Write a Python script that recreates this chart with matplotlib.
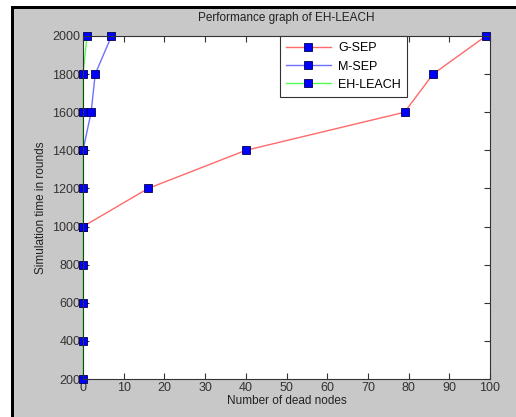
import matplotlib
matplotlib.use('Agg')
import matplotlib.pyplot as plt
from matplotlib.patches import Rectangle

plt.rcParams['font.family'] = ['Liberation Sans', 'DejaVu Sans']

# data
g_sep_x = [0, 16, 40, 79, 86, 99]
g_sep_y = [1000, 1200, 1400, 1600, 1800, 2000]
m_sep_x = [0, 2, 3, 7]
m_sep_y = [1400, 1600, 1800, 2000]
eh_x = [0, 0, 0, 0, 0, 0, 0, 0, 0, 1]
eh_y = [200, 400, 600, 800, 1000, 1200, 1400, 1600, 1800, 2000]

xticks = list(range(0, 101, 10))
yticks = list(range(200, 2001, 200))

W, H = 516, 417
fig = plt.figure(figsize=(W / 100, H / 100), dpi=100, facecolor='white')

# grey window area with a black edge on left and top
tf = fig.transFigure
fig.patches.append(Rectangle((11 / W, 0), 1, 1 - 6 / H, transform=tf,
                             facecolor='#c8c8c8', edgecolor='none', zorder=-10))
fig.patches.append(Rectangle((11 / W, 0), 2.5 / W, 1 - 6 / H, transform=tf,
                             facecolor='black', edgecolor='none', zorder=-9))
fig.patches.append(Rectangle((11 / W, 1 - 8.5 / H), 1, 2.5 / H, transform=tf,
                             facecolor='black', edgecolor='none', zorder=-9))

ax = fig.add_axes([83 / W, 38 / H, 407 / W, 343 / H])
ax.set_facecolor('white')

mk = dict(marker='s', markersize=6, markerfacecolor='#0000ff', markeredgecolor='#000050',
          markeredgewidth=0.6, lw=1, clip_on=False)
ax.plot(g_sep_x, g_sep_y, color='#ff6a6a', label='G-SEP', **mk)
ax.plot(m_sep_x, m_sep_y, color='#7070ff', label='M-SEP', **mk)
ax.plot(eh_x, eh_y, color='#50ff50', label='EH-LEACH', **mk)

ax.set_xlim(0, 100)
ax.set_ylim(200, 2000)
ax.set_xticks(xticks)
ax.set_yticks(yticks)
ax.tick_params(direction='in', length=4, labelsize=9, colors='#333333',
               top=True, right=True, pad=2)
for s in ax.spines.values():
    s.set_color('#333333')
    s.set_linewidth(0.8)

ax.set_title('Performance graph of EH-LEACH', fontsize=8.5, color='#222222', pad=11)
ax.set_xlabel('Number of dead nodes', fontsize=8.5, color='#222222', labelpad=1)
ax.set_ylabel('Simulation time in rounds', fontsize=8.5, color='#222222', labelpad=4)

leg = ax.legend(loc='upper right', bbox_to_anchor=(0.797, 1.0), borderaxespad=0,
                fontsize=9, fancybox=False, framealpha=1, edgecolor='#333333',
                handlelength=3.6, handletextpad=0.6, borderpad=0.5, labelspacing=0.5)
leg.get_frame().set_linewidth(0.8)

fig.savefig('out.png', dpi=100, facecolor=fig.get_facecolor())
